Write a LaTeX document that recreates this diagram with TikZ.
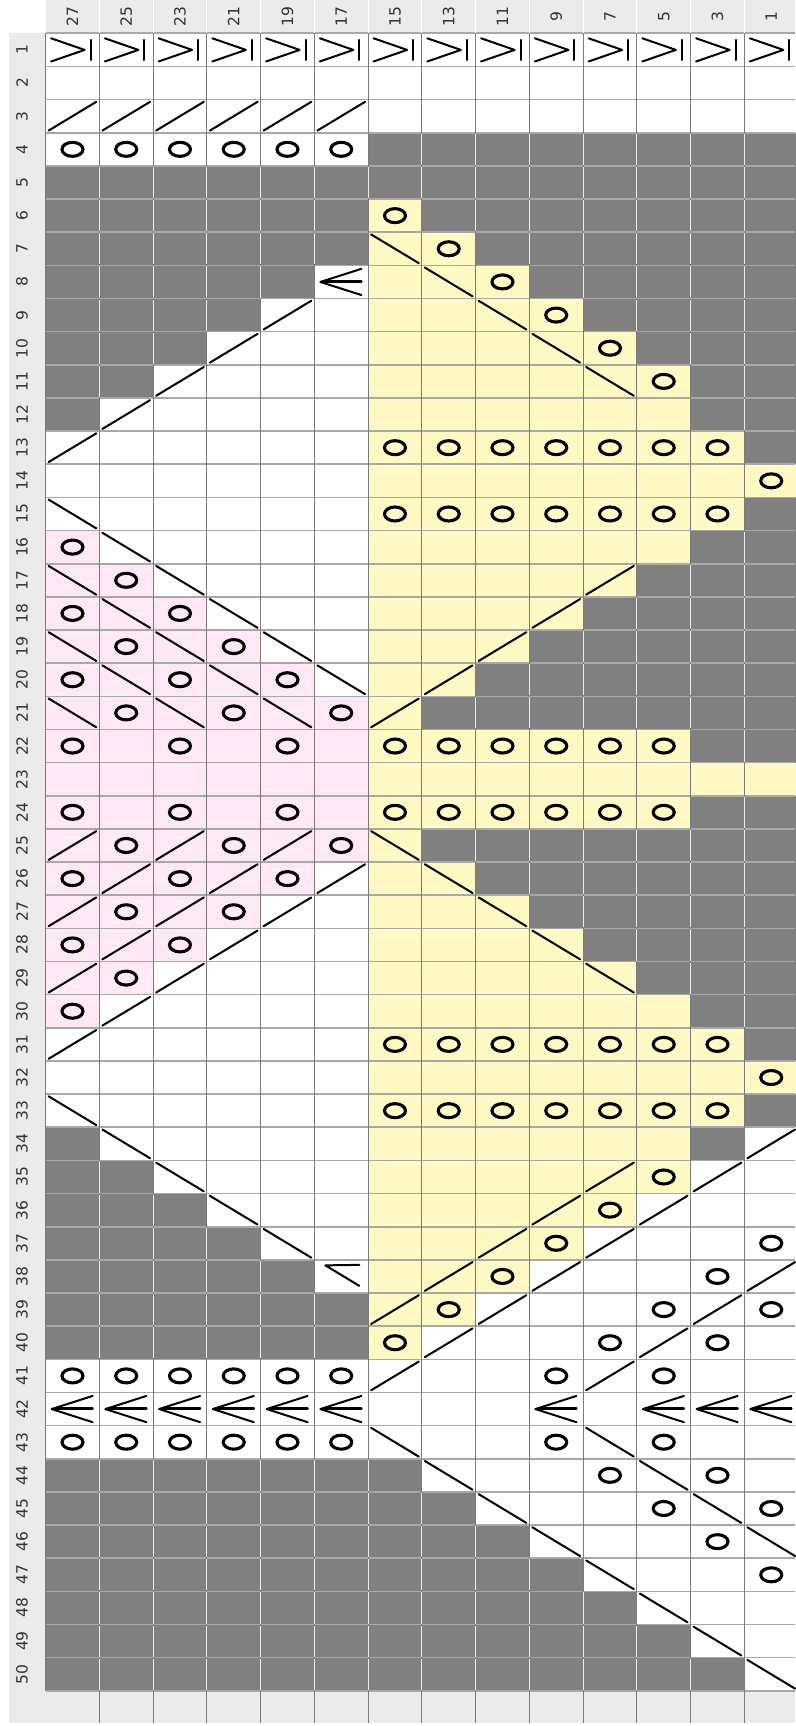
\documentclass[tikz,border=0pt]{standalone}
\usepackage{fontspec}
\newfontfamily\lblfont{DejaVu Sans}
\definecolor{dk}{RGB}{128,128,128}
\definecolor{yl}{RGB}{255,249,196}
\definecolor{pk}{RGB}{255,232,246}
\definecolor{hd}{RGB}{235,235,235}
\definecolor{vl}{RGB}{122,122,122}
\definecolor{hl}{RGB}{168,168,168}
\definecolor{tx}{RGB}{50,50,50}
\newcommand\kO[2]{\draw[symo] ({cx(#1)+26.875},{ry(#2)+16.58}) ellipse [x radius=10.5, y radius=7];}
\newcommand\kF[2]{\draw[sym] ({cx(#1)+3},{ry(#2)+31}) -- ({cx(#1)+50.75},{ry(#2)+2.2});}
\newcommand\kB[2]{\draw[sym] ({cx(#1)+3},{ry(#2)+2.2}) -- ({cx(#1)+50.75},{ry(#2)+31});}
\newcommand\kDec[2]{\draw[sym] ({cx(#1)+47},{ry(#2)+3.5}) -- ({cx(#1)+6},{ry(#2)+16.6}) -- ({cx(#1)+47},{ry(#2)+29.7});
  \draw[sym, line width=2.6] ({cx(#1)+9},{ry(#2)+16.2}) -- ({cx(#1)+47},{ry(#2)+16.2});}
\newcommand\kTop[2]{\draw[sym] ({cx(#1)+5.5},{ry(#2)+5}) -- ({cx(#1)+39},{ry(#2)+16.6}) -- ({cx(#1)+5.5},{ry(#2)+28.2});
  \draw[sym] ({cx(#1)+45},{ry(#2)+6.5}) -- ({cx(#1)+45},{ry(#2)+26.7});}
\newcommand\kSpec[2]{\draw[sym] ({cx(#1)+45},{ry(#2)+5}) -- ({cx(#1)+11},{ry(#2)+5.5}) -- ({cx(#1)+45},{ry(#2)+26});}
\begin{document}
\begin{tikzpicture}[x=1pt,y=-1pt,
  declare function={cx(\c)=45.6+(\c-1)*53.75; ry(\r)=33.3+(\r-1)*33.15;},
  sym/.style={draw=black, line width=2.0, line cap=round, line join=round},
  symo/.style={draw=black, line width=3.1},
  hline/.style={draw=hl, line width=1.6},
  vline/.style={draw=vl, line width=1.1},
  wline/.style={draw=white!92!black, line width=1.1},
  lbl/.style={font=\lblfont\fontsize{15.5}{18}\selectfont, text=tx, rotate=90, inner sep=0pt}]
\useasboundingbox (0,0) rectangle (795,1726);
\fill[white] (0,0) rectangle (795,1726);
% header, side and bottom strips
\fill[hd] (45.6,0) rectangle (795,{ry(1)});
\fill[hd] (9,{ry(1)}) rectangle (45.6,{ry(51)});
\fill[hd] (9,{ry(51)}) rectangle (795,1723);
% dark cells
\foreach \r/\a/\b in {4/7/14, 5/1/14, 6/1/6, 6/8/14, 7/1/6, 7/9/14, 8/1/5, 8/10/14, 9/1/4, 9/11/14, 10/1/3, 10/12/14, 11/1/2, 11/13/14, 12/1/1, 12/13/14, 13/14/14, 15/14/14, 16/13/14, 17/12/14, 18/11/14, 19/10/14, 20/9/14, 21/8/14, 22/13/14, 24/13/14, 25/8/14, 26/9/14, 27/10/14, 28/11/14, 29/12/14, 30/13/14, 31/14/14, 33/14/14, 34/1/1, 34/13/13, 35/1/2, 36/1/3, 37/1/4, 38/1/5, 39/1/6, 40/1/6, 44/1/7, 45/1/8, 46/1/9, 47/1/10, 48/1/11, 49/1/12, 50/1/13}
  {\fill[dk] ({cx(\a)},{ry(\r)}) rectangle ({cx(\b+1)},{ry(\r+1)});}
% yellow cells
\foreach \r/\a/\b in {6/7/7, 7/7/8, 8/7/9, 9/7/10, 10/7/11, 11/7/12, 12/7/12, 13/7/13, 14/7/14, 15/7/13, 16/7/12, 17/7/11, 18/7/10, 19/7/9, 20/7/8, 21/7/7, 22/7/12, 23/7/14, 24/7/12, 25/7/7, 26/7/8, 27/7/9, 28/7/10, 29/7/11, 30/7/12, 31/7/13, 32/7/14, 33/7/13, 34/7/12, 35/7/12, 36/7/11, 37/7/10, 38/7/9, 39/7/8, 40/7/7}
  {\fill[yl] ({cx(\a)},{ry(\r)}) rectangle ({cx(\b+1)},{ry(\r+1)});}
% pink cells
\foreach \r/\a/\b in {16/1/1, 17/1/2, 18/1/3, 19/1/4, 20/1/5, 21/1/6, 22/1/6, 23/1/6, 24/1/6, 25/1/6, 26/1/5, 27/1/4, 28/1/3, 29/1/2, 30/1/1}
  {\fill[pk] ({cx(\a)},{ry(\r)}) rectangle ({cx(\b+1)},{ry(\r+1)});}
% grid
\foreach \k in {1,...,51} {\draw[hline] ({cx(1)},{ry(\k)}) -- (795,{ry(\k)});}
\foreach \k in {1,...,15} {\draw[vline] ({cx(\k)},{ry(1)}) -- ({cx(\k)},{ry(51)});}
\foreach \k in {2,...,14} {\draw[white, line width=1.1] ({cx(\k)},0) -- ({cx(\k)},{ry(1)});}
\foreach \k in {2,...,14} {\draw[vline] ({cx(\k)},{ry(51)}) -- ({cx(\k)},1723);}
% light separators inside dark runs
\foreach \r/\a/\b in {4/7/14, 5/1/14, 6/1/6, 6/8/14, 7/1/6, 7/9/14, 8/1/5, 8/10/14, 9/1/4, 9/11/14, 10/1/3, 10/12/14, 11/1/2, 11/13/14, 12/13/14, 16/13/14, 17/12/14, 18/11/14, 19/10/14, 20/9/14, 21/8/14, 22/13/14, 24/13/14, 25/8/14, 26/9/14, 27/10/14, 28/11/14, 29/12/14, 30/13/14, 35/1/2, 36/1/3, 37/1/4, 38/1/5, 39/1/6, 40/1/6, 44/1/7, 45/1/8, 46/1/9, 47/1/10, 48/1/11, 49/1/12, 50/1/13}
  {\pgfmathtruncatemacro\aa{\a+1}
   \foreach \k in {\aa,...,\b} {\draw[wline] ({cx(\k)},{ry(\r)+1}) -- ({cx(\k)},{ry(\r+1)-1});}}
% labels
\foreach \c in {1,...,14} {\pgfmathtruncatemacro\lab{29-2*\c}
  \node[lbl] (col\c) at ({cx(\c)+26.875},16.6) {\lab};}
\foreach \r in {1,...,50} {\node[lbl] (row\r) at (22,{ry(\r)+16.58}) {\r};}
% yarn overs
\foreach \r/\a/\b in {4/1/6, 6/7/7, 7/8/8, 8/9/9, 9/10/10, 10/11/11, 11/12/12, 13/7/13, 14/14/14, 15/7/13, 16/1/1, 17/2/2, 18/1/1, 18/3/3, 19/2/2, 19/4/4, 20/1/1, 20/3/3, 20/5/5, 21/2/2, 21/4/4, 21/6/6, 22/1/1, 22/3/3, 22/5/5, 22/7/12, 24/1/1, 24/3/3, 24/5/5, 24/7/12, 25/2/2, 25/4/4, 25/6/6, 26/1/1, 26/3/3, 26/5/5, 27/2/2, 27/4/4, 28/1/1, 28/3/3, 29/2/2, 30/1/1, 31/7/13, 32/14/14, 33/7/13, 35/12/12, 36/11/11, 37/10/10, 37/14/14, 38/9/9, 38/13/13, 39/8/8, 39/12/12, 39/14/14, 40/7/7, 40/11/11, 40/13/13, 41/1/6, 41/10/10, 41/12/12, 43/1/6, 43/10/10, 43/12/12, 44/11/11, 44/13/13, 45/12/12, 45/14/14, 46/13/13, 47/14/14}
  {\foreach \c in {\a,...,\b} {\kO{\c}{\r}}}
% forward slashes
\foreach \r/\a/\b in {3/1/6, 9/5/5, 10/4/4, 11/3/3, 12/2/2, 13/1/1, 17/11/11, 18/10/10, 19/9/9, 20/8/8, 21/7/7, 25/1/1, 25/3/3, 25/5/5, 26/2/2, 26/4/4, 26/6/6, 27/1/1, 27/3/3, 27/5/5, 28/2/2, 28/4/4, 29/1/1, 29/3/3, 30/2/2, 31/1/1, 34/14/14, 35/11/11, 35/13/13, 36/10/10, 36/12/12, 37/9/9, 37/11/11, 38/8/8, 38/10/10, 38/14/14, 39/7/7, 39/9/9, 39/13/13, 40/8/8, 40/12/12, 41/7/7, 41/11/11}
  {\foreach \c in {\a,...,\b} {\kF{\c}{\r}}}
% back slashes
\foreach \r/\a/\b in {7/7/7, 8/8/8, 9/9/9, 10/10/10, 11/11/11, 15/1/1, 16/2/2, 17/1/1, 17/3/3, 18/2/2, 18/4/4, 19/1/1, 19/3/3, 19/5/5, 20/2/2, 20/4/4, 20/6/6, 21/1/1, 21/3/3, 21/5/5, 25/7/7, 26/8/8, 27/9/9, 28/10/10, 29/11/11, 33/1/1, 34/2/2, 35/3/3, 36/4/4, 37/5/5, 43/7/7, 43/11/11, 44/8/8, 44/12/12, 45/9/9, 45/13/13, 46/10/10, 46/14/14, 47/11/11, 48/12/12, 49/13/13, 50/14/14}
  {\foreach \c in {\a,...,\b} {\kB{\c}{\r}}}
% double decreases
\foreach \r/\a/\b in {8/6/6, 42/1/6, 42/10/10, 42/12/14}
  {\foreach \c in {\a,...,\b} {\kDec{\c}{\r}}}
% top row symbol
\foreach \c in {1,...,14} {\kTop{\c}{1}}
% special symbol
\kSpec{6}{38}
\end{tikzpicture}
\end{document}
